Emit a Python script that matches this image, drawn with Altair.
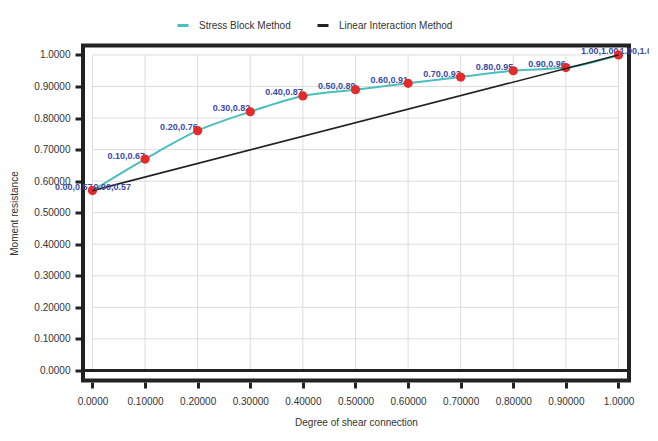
import altair as alt
import pandas as pd

# ---- data ----
x_vals = [0.0, 0.1, 0.2, 0.3, 0.4, 0.5, 0.6, 0.7, 0.8, 0.9, 1.0]
stress_y = [0.57, 0.67, 0.76, 0.82, 0.87, 0.89, 0.91, 0.93, 0.95, 0.96, 1.00]
linear_x = [0.0, 1.0]
linear_y = [0.57, 1.00]
tick_vals = [0.0, 0.1, 0.2, 0.3, 0.4, 0.5, 0.6, 0.7, 0.8, 0.9, 1.0]
series_names = ["Stress Block Method", "Linear Interaction Method"]
series_colors = ["#4bbfbc", "#222222"]

stress = pd.DataFrame({"x": x_vals, "y": stress_y, "series": series_names[0]})
stress["label"] = [f"{a:.2f},{b:.2f}" for a, b in zip(x_vals, stress_y)]
linear = pd.DataFrame({"x": linear_x, "y": linear_y, "series": series_names[1]})
linear["label"] = [f"{a:.2f},{b:.2f}" for a, b in zip(linear_x, linear_y)]
grid = pd.DataFrame({"v": tick_vals, "lo": 0.0, "hi": 1.0})
zero = pd.DataFrame({"z": [0.0]})

label_expr = ("datum.value == 0 || datum.value == 1 ? format(datum.value, '.4f')"
              " : format(datum.value, '.5f')")

xs = alt.Scale(domain=[-0.018, 1.02], nice=False, zero=False)
ys = alt.Scale(domain=[-0.032, 1.03], nice=False, zero=False)

xaxis = alt.Axis(values=tick_vals, labelExpr=label_expr, grid=False, domain=False,
                 tickSize=6, tickWidth=3, tickColor="#222222", offset=1.5,
                 labelPadding=8, labelFontSize=10, labelColor="#333333",
                 title="Degree of shear connection", titleFontSize=10,
                 titleFontWeight="normal", titleColor="#333333", titlePadding=11)
yaxis = alt.Axis(values=tick_vals, labelExpr=label_expr, grid=False, domain=False,
                 tickSize=6, tickWidth=3, tickColor="#222222", offset=2,
                 labelPadding=5, labelFontSize=10, labelColor="#333333",
                 title="Moment resistance", titleFontSize=10,
                 titleFontWeight="normal", titleColor="#333333", titlePadding=14)

color = alt.Color("series:N",
                  scale=alt.Scale(domain=series_names, range=series_colors),
                  legend=alt.Legend(title=None, orient="none", legendX=93, legendY=-27,
                                    direction="horizontal", symbolType="stroke",
                                    symbolSize=121, symbolStrokeWidth=3,
                                    labelFontSize=10, labelColor="#333333",
                                    labelFont="Liberation Sans", columnPadding=20,
                                    labelOffset=9, padding=0))

X = lambda f: alt.X(f, scale=xs, axis=xaxis)
Y = lambda f: alt.Y(f, scale=ys, axis=yaxis)

vgrid = alt.Chart(grid).mark_rule(color="#dddddd", strokeWidth=1).encode(
    x=X("v:Q"), y=Y("lo:Q"), y2="hi:Q")
hgrid = alt.Chart(grid).mark_rule(color="#dddddd", strokeWidth=1).encode(
    y=Y("v:Q"), x=X("lo:Q"), x2="hi:Q")
zline = alt.Chart(zero).mark_rule(color="#222222", strokeWidth=3).encode(y=Y("z:Q"))

s_line = alt.Chart(stress).mark_line(interpolate="monotone", strokeWidth=2).encode(
    x=X("x:Q"), y=Y("y:Q"), color=color)
s_text = alt.Chart(stress).mark_text(align="right", baseline="middle", dy=-3.5,
                                     fontSize=9, fontWeight="bold",
                                     color="#3b4ba6").encode(
    x=X("x:Q"), y=Y("y:Q"), text="label:N")
s_pts = alt.Chart(stress).mark_circle(size=85, color="#e62a2a", opacity=1).encode(
    x=X("x:Q"), y=Y("y:Q"))
l_line = alt.Chart(linear).mark_line(strokeWidth=1.6).encode(
    x=X("x:Q"), y=Y("y:Q"), color=color)
l_text = alt.Chart(linear).mark_text(align="left", baseline="middle", dx=1, dy=-3.5,
                                     fontSize=9, fontWeight="bold",
                                     color="#3b4ba6").encode(
    x=X("x:Q"), y=Y("y:Q"), text="label:N")

chart = alt.layer(vgrid, hgrid, zline, s_line, s_text, s_pts, l_line, l_text).properties(
    width=546, height=335,
    padding={"left": 75, "top": 37.5, "right": 20, "bottom": 60.5},
    autosize=alt.AutoSizeParams(type="none"),
).configure(font="Liberation Sans").configure_view(stroke="#222222", strokeWidth=4)

chart.save("out.html", embed_options={"renderer": "svg", "actions": False})
